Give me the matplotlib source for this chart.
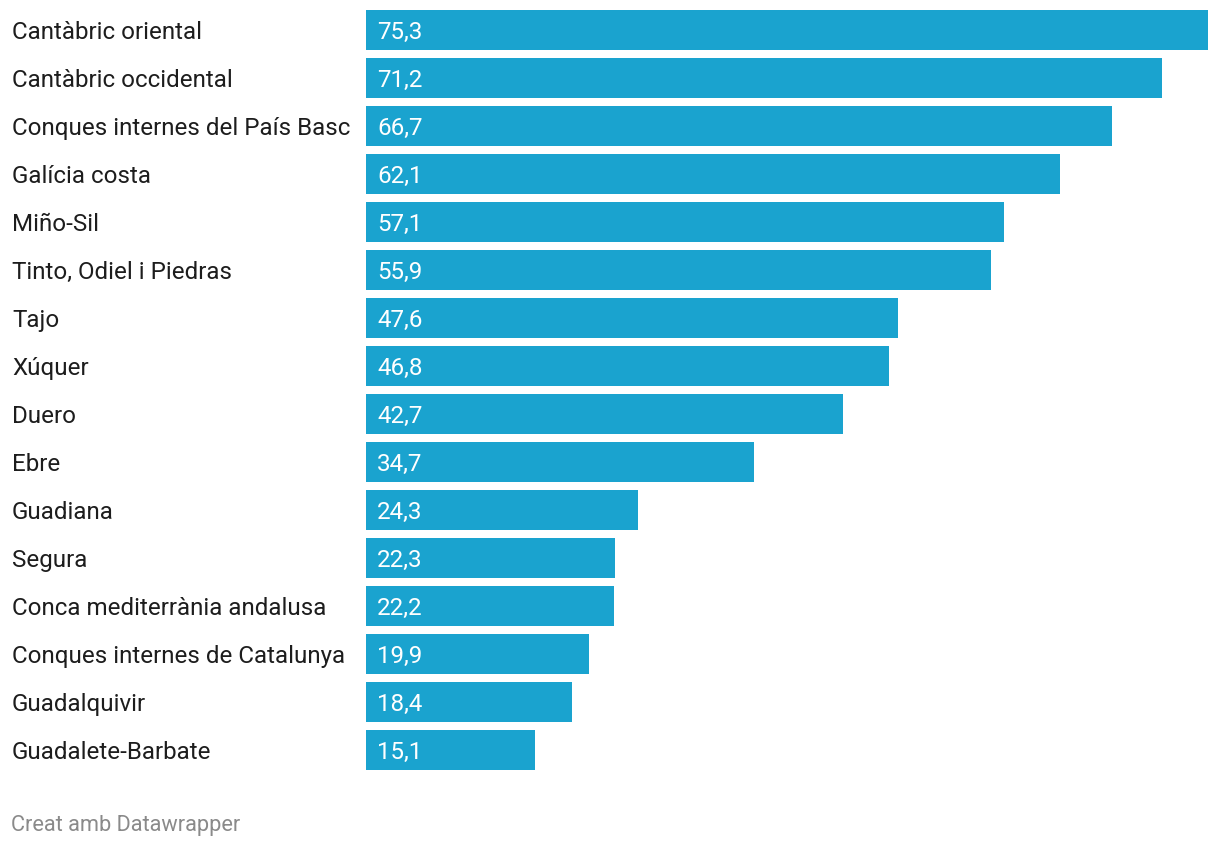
import matplotlib
matplotlib.use("Agg")
import matplotlib.pyplot as plt
from matplotlib.transforms import blended_transform_factory

plt.rcParams['font.family'] = ['Roboto', 'DejaVu Sans']

conques = [
    "Cantàbric oriental", "Cantàbric occidental", "Conques internes del País Basc",
    "Galícia costa", "Miño-Sil", "Tinto, Odiel i Piedras", "Tajo", "Xúquer",
    "Duero", "Ebre", "Guadiana", "Segura", "Conca mediterrània andalusa",
    "Conques internes de Catalunya", "Guadalquivir", "Guadalete-Barbate",
]
valors = [75.3, 71.2, 66.7, 62.1, 57.1, 55.9, 47.6, 46.8, 42.7, 34.7, 24.3,
          22.3, 22.2, 19.9, 18.4, 15.1]

W, H = 1220, 846
fig = plt.figure(figsize=(W / 100, H / 100), dpi=100)
# axes placed in pixel terms: bars start at x=366, rows are 48px apart
ax = fig.add_axes([366 / W, (H - 774) / H, 842 / W, 768 / H])

pos = list(range(len(conques)))
ax.barh(pos, valors, height=40 / 48, color="#1aa3cf", align="center")
ax.set_xlim(0, max(valors))
ax.set_ylim(len(conques) - 0.5, -0.5)
ax.axis("off")

lab_tr = blended_transform_factory(fig.transFigure, ax.transData)
val_tr = blended_transform_factory(ax.transAxes, ax.transData)
for i, (nom, v) in enumerate(zip(conques, valors)):
    ax.text(12 / W, i, nom, transform=lab_tr, ha="left", va="center_baseline",
            fontsize=17.4, color="#1d1d1d")
    ax.text(11 / 842, i, f"{v:.1f}".replace(".", ","), transform=val_tr,
            ha="left", va="center_baseline", fontsize=17.4, color="white")

fig.text(11 / W, 1 - 823 / H, "Creat amb Datawrapper", ha="left", va="center_baseline",
         fontsize=15.7, color="#8a8a8a")

fig.savefig("out.png", dpi=100)
